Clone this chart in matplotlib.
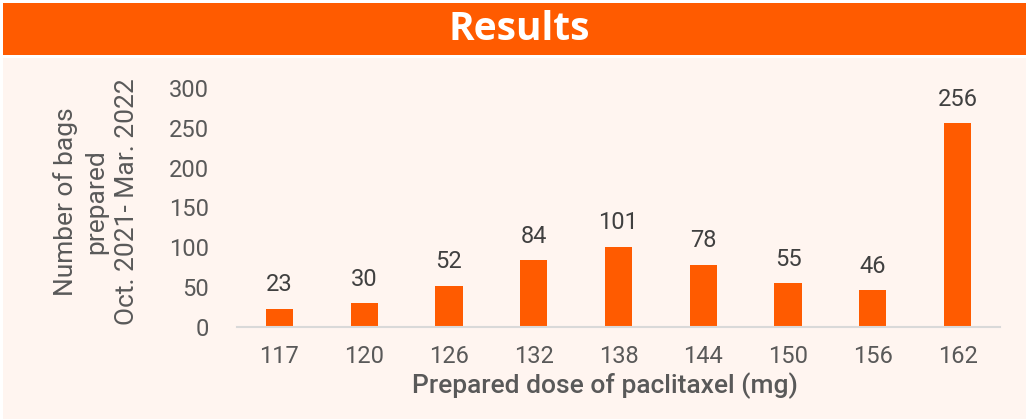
import matplotlib.pyplot as plt
from matplotlib.patches import Rectangle

doses = ['117', '120', '126', '132', '138', '144', '150', '156', '162']
bags = [23, 30, 52, 84, 101, 78, 55, 46, 256]

orange = '#FF5B00'
bg = '#FFF5F0'
grey = '#595959'

plt.rcParams['font.family'] = ['Roboto', 'DejaVu Sans']

fig = plt.figure(figsize=(10.26, 4.19), dpi=100)
fig.patch.set_facecolor('white')

# header band and chart background
fig.patches.append(Rectangle((3/1026, 1-55/419), 1, 52/419, transform=fig.transFigure,
                             facecolor=orange, edgecolor='none', zorder=-2))
fig.patches.append(Rectangle((3/1026, 0), 1, 1-58/419, transform=fig.transFigure,
                             facecolor=bg, edgecolor='none', zorder=-2))
fig.text(519/1026, 1-30/419, 'Results', ha='center', va='center', color='white',
         fontsize=28, fontweight='bold', family=['Open Sans', 'DejaVu Sans'])

ax = fig.add_axes([237/1026, 1-327/419, 763/1026, 239/419])
ax.set_facecolor('none')
xs = range(len(doses))
rects = ax.bar(xs, bags, width=0.32, color=orange)
ax.bar_label(rects, padding=9, fontsize=17, color='#404040')

ax.set_xlim(-0.5, len(doses)-0.5)
ax.set_ylim(0, 300)
ax.set_yticks(range(0, 301, 50))
ax.set_xticks(list(xs))
ax.set_xticklabels(doses)
ax.tick_params(axis='both', length=0, labelsize=17, labelcolor=grey)
ax.tick_params(axis='y', pad=20)
ax.tick_params(axis='x', pad=13)
for s in ['top', 'right', 'left']:
    ax.spines[s].set_visible(False)
ax.spines['bottom'].set_color('#D9D9D9')
ax.spines['bottom'].set_linewidth(1.5)

fig.text(605/1026, 1-386/419, 'Prepared dose of paclitaxel (mg)', ha='center', va='center',
         fontsize=19, color=grey, fontweight='medium')
fig.text(96/1026, 1-202/419, 'Number of bags\nprepared\nOct. 2021- Mar. 2022', ha='center',
         va='center', rotation=90, multialignment='center', fontsize=19, color=grey,
         linespacing=1.35)

fig.savefig('out.png', dpi=100, facecolor=fig.get_facecolor())
